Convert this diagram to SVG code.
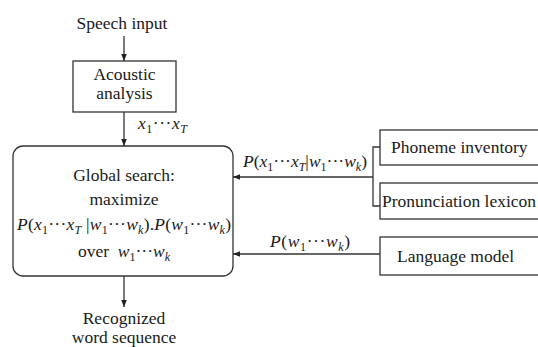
<svg xmlns="http://www.w3.org/2000/svg" width="538" height="347" viewBox="0 0 538 347">
<defs>
<marker id="ah" viewBox="0 0 10 10" refX="10" refY="5" markerWidth="7" markerHeight="7" markerUnits="userSpaceOnUse" orient="auto"><path d="M0,1 L10,5 L0,9 Z" fill="#222"/></marker>
<style>
text{font-family:"Liberation Serif","Times New Roman",serif;font-size:17.5px;fill:#1a1a1a}
.i{font-style:italic}
.s{font-size:12px}
.box{fill:#fff;stroke:#333;stroke-width:1.3}
.ln{fill:none;stroke:#333;stroke-width:1.3}
</style>
</defs>
<rect width="538" height="347" fill="#fff"/>
<g id="speech-input"><text x="122" y="29" text-anchor="middle">Speech input</text></g>
<g id="acoustic-analysis">
<rect class="box" x="73" y="61" width="103" height="51"/>
<text x="124.5" y="80" text-anchor="middle">Acoustic</text>
<text x="124.5" y="99" text-anchor="middle">analysis</text>
</g>
<g id="global-search">
<rect class="box" x="13" y="146" width="220" height="130" rx="10" ry="10"/>
<text x="124" y="181" text-anchor="middle">Global search:</text>
<text x="124" y="205" text-anchor="middle">maximize</text>
<text x="124" y="230" text-anchor="middle" textLength="214" lengthAdjust="spacing"><tspan class="i">P</tspan>(<tspan class="i">x</tspan><tspan class="s" dy="4">1</tspan><tspan dy="-4">···</tspan><tspan class="i">x</tspan><tspan class="i s" dy="4">T</tspan><tspan dy="-4">&#160;|</tspan><tspan class="i">w</tspan><tspan class="s" dy="4">1</tspan><tspan dy="-4">···</tspan><tspan class="i">w</tspan><tspan class="i s" dy="4">k</tspan><tspan dy="-4">).</tspan><tspan class="i">P</tspan>(<tspan class="i">w</tspan><tspan class="s" dy="4">1</tspan><tspan dy="-4">···</tspan><tspan class="i">w</tspan><tspan class="i s" dy="4">k</tspan><tspan dy="-4">)</tspan></text>
<text x="124" y="257" text-anchor="middle">over&#160;&#160;<tspan class="i">w</tspan><tspan class="s" dy="4">1</tspan><tspan dy="-4">···</tspan><tspan class="i">w</tspan><tspan class="i s" dy="4">k</tspan></text>
</g>
<g id="recognized"><text x="124" y="324" text-anchor="middle">Recognized</text><text x="124" y="343" text-anchor="middle">word sequence</text></g>
<g id="phoneme-inventory">
<rect class="box" x="380" y="130" width="170" height="35"/>
<text x="391" y="153">Phoneme inventory</text>
</g>
<g id="pronunciation-lexicon">
<rect class="box" x="380" y="183" width="170" height="36"/>
<text x="382" y="207">Pronunciation lexicon</text>
</g>
<g id="language-model">
<rect class="box" x="380" y="237" width="170" height="38"/>
<text x="397" y="262">Language model</text>
</g>
<g id="connectors">
<line class="ln" x1="124" y1="36" x2="124" y2="61" marker-end="url(#ah)"/>
<line class="ln" x1="124" y1="112" x2="124" y2="146" marker-end="url(#ah)"/>
<line class="ln" x1="124" y1="276" x2="124" y2="307" marker-end="url(#ah)"/>
<path class="ln" d="M380,147 H373 V206 H380"/>
<line class="ln" x1="373" y1="177" x2="233" y2="177" marker-end="url(#ah)"/>
<line class="ln" x1="380" y1="254" x2="233" y2="254" marker-end="url(#ah)"/>
<text x="138" y="129" textLength="49" lengthAdjust="spacing"><tspan class="i">x</tspan><tspan class="s" dy="4">1</tspan><tspan dy="-4">···</tspan><tspan class="i">x</tspan><tspan class="i s" dy="4">T</tspan></text>
<text x="243" y="167" textLength="124" lengthAdjust="spacing"><tspan class="i">P</tspan>(<tspan class="i">x</tspan><tspan class="s" dy="4">1</tspan><tspan dy="-4">···</tspan><tspan class="i">x</tspan><tspan class="i s" dy="4">T</tspan><tspan dy="-4">|</tspan><tspan class="i">w</tspan><tspan class="s" dy="4">1</tspan><tspan dy="-4">···</tspan><tspan class="i">w</tspan><tspan class="i s" dy="4">k</tspan><tspan dy="-4">)</tspan></text>
<text x="270" y="247" textLength="80" lengthAdjust="spacing"><tspan class="i">P</tspan>(<tspan class="i">w</tspan><tspan class="s" dy="4">1</tspan><tspan dy="-4">···</tspan><tspan class="i">w</tspan><tspan class="i s" dy="4">k</tspan><tspan dy="-4">)</tspan></text>
</g>
</svg>
